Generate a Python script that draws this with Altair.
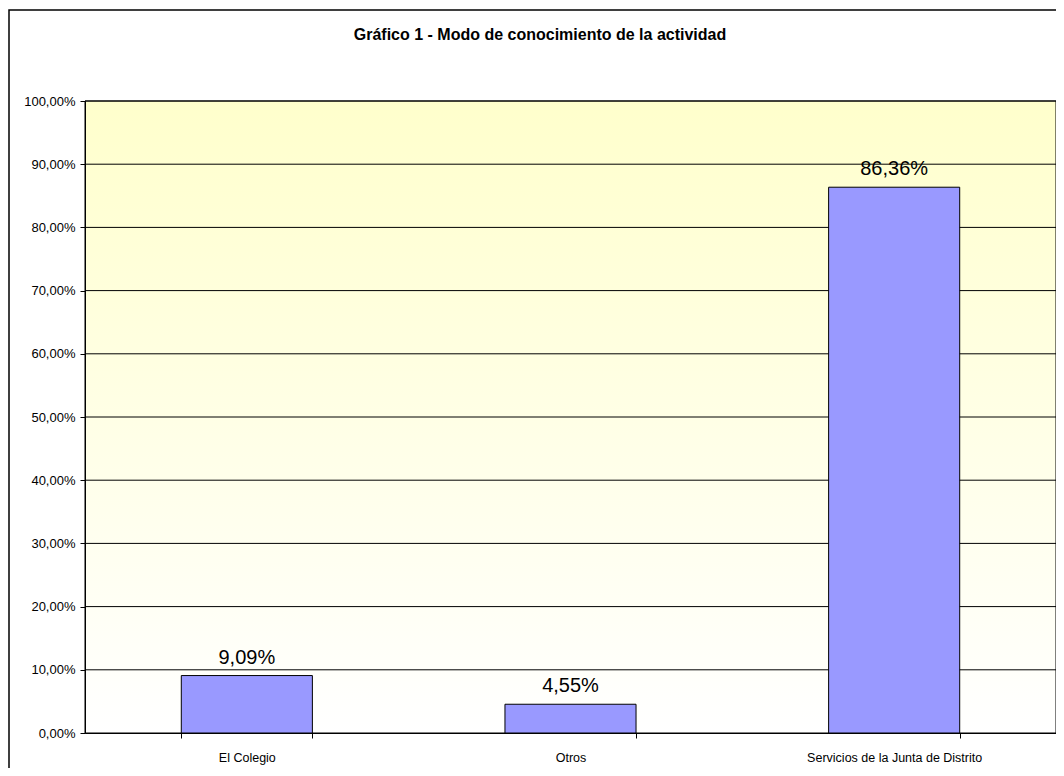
import altair as alt
import pandas as pd

categories = ["El Colegio", "Otros", "Servicios de la Junta de Distrito"]
values = [9.09, 4.55, 86.36]
grid_values = [10, 20, 30, 40, 50, 60, 70, 80, 90, 100]
title_text = "Gráfico 1 - Modo de conocimiento de la actividad"

W, H = 971, 632
FONT = "Liberation Sans"

df = pd.DataFrame({"cat": categories, "val": values})

xscale = alt.Scale(domain=categories, paddingInner=0.595, paddingOuter=0.2975)
yscale = alt.Scale(domain=[0, 100], nice=False)

label_expr = "replace(format(datum.value, '.2f'), '.', ',') + '%'"

background = alt.Chart(alt.Data(values=[{}])).mark_rect(
    fill=alt.LinearGradient(
        gradient="linear",
        stops=[alt.GradientStop(color="#FFFFCC", offset=0),
               alt.GradientStop(color="#FFFFFF", offset=1)],
        x1=0, x2=0, y1=0, y2=1),
    stroke="black", strokeWidth=1,
).encode(x=alt.value(0), x2=alt.value(W), y=alt.value(0), y2=alt.value(H))

grid = alt.Chart(pd.DataFrame({"g": grid_values})).mark_rule(
    color="black", strokeWidth=1
).encode(y=alt.Y("g:Q", scale=yscale))

bars = alt.Chart(df).mark_bar(
    color="#9999FF", stroke="black", strokeWidth=1
).encode(
    x=alt.X("cat:N", scale=xscale, sort=categories, title=None,
            axis=alt.Axis(labelAngle=0, tickBand="extent", tickSize=5,
                          labelPadding=13, labelFont=FONT, labelFontSize=12.5,
                          labelColor="black", domainColor="black",
                          tickColor="black", zindex=1)),
    y=alt.Y("val:Q", scale=yscale, title=None,
            axis=alt.Axis(values=grid_values + [0], labelExpr=label_expr,
                          grid=False, tickSize=5, labelPadding=5,
                          labelFont=FONT, labelFontSize=13,
                          labelColor="black", domainColor="black",
                          tickColor="black", zindex=1)),
)

texts = alt.Chart(df).transform_calculate(
    lbl="replace(format(datum.val, '.2f'), '.', ',') + '%'"
).mark_text(
    font=FONT, fontSize=20, dy=-12, baseline="alphabetic", color="black"
).encode(
    x=alt.X("cat:N", scale=xscale, sort=categories),
    y=alt.Y("val:Q", scale=yscale),
    text="lbl:N",
)

title = alt.Chart(alt.Data(values=[{"t": title_text}])).mark_text(
    font=FONT, fontSize=16, fontWeight="bold", baseline="alphabetic",
    align="center", color="black"
).encode(x=alt.value(455), y=alt.value(-61), text="t:N")

border = alt.Chart(alt.Data(values=[{}])).mark_rect(
    fill=None, fillOpacity=0, stroke="black", strokeWidth=1.5
).encode(x=alt.value(-76), x2=alt.value(1200), y=alt.value(-91), y2=alt.value(900))

chart = alt.layer(background, grid, bars, texts, title, border).properties(
    width=W, height=H,
    autosize=alt.AutoSizeParams(type="none"),
    padding={"left": 77, "top": 93, "right": 0, "bottom": 35},
).configure_view(stroke=None)

chart.save("out.html", embed_options={"renderer": "svg", "actions": False})
